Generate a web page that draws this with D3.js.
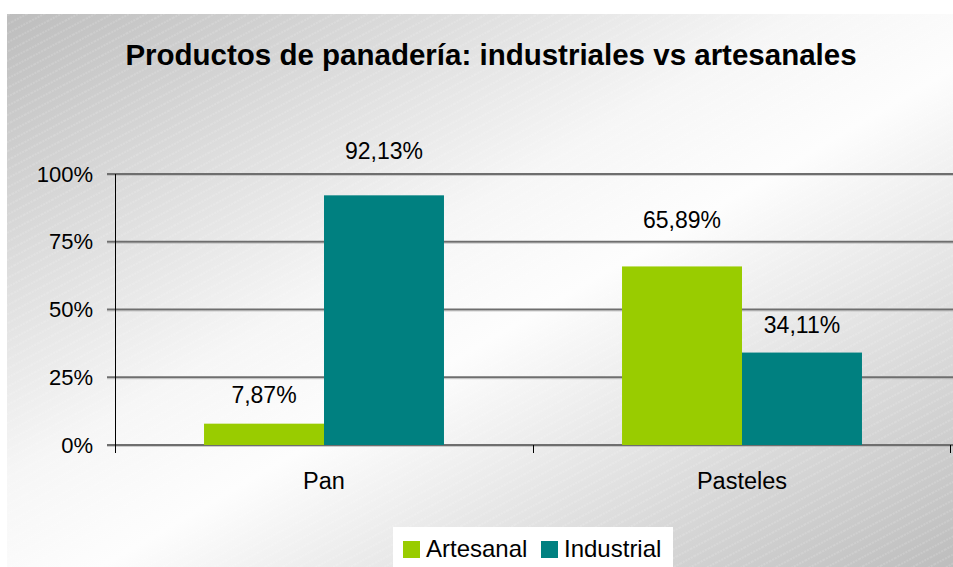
<!DOCTYPE html>
<html>
<head>
<meta charset="utf-8">
<script src="https://cdn.jsdelivr.net/npm/d3@7/dist/d3.min.js"></script>
<style>
html,body{margin:0;padding:0;background:#fff;}
svg{display:block;font-family:"Liberation Sans",Arial,sans-serif;}
</style>
</head>
<body>
<svg id="chart" width="953" height="567"></svg>
<script>
const title = "Productos de panadería: industriales vs artesanales";
const categories = ["Pan", "Pasteles"];
const seriesNames = ["Artesanal", "Industrial"];
const artesanal = [7.87, 65.89];
const industrial = [92.13, 34.11];
const valueLabels = [["7,87%", "65,89%"], ["92,13%", "34,11%"]];
const yTicks = [0, 25, 50, 75, 100];
const yTickLabels = ["0%", "25%", "50%", "75%", "100%"];
const colors = ["#99cc00", "#008080"];
const labelDy = [[29, 46], [44, 28]];

const svg = d3.select("#chart");
const W = 953, H = 567;

const defs = svg.append("defs");
const grad = defs.append("linearGradient").attr("id", "bg")
  .attr("x1", 0).attr("y1", 0).attr("x2", 1).attr("y2", 1);
[[0, "#bdbdbd"], [0.42, "#f6f6f6"], [0.55, "#fdfdfd"], [1, "#bdbdbd"]].forEach(s =>
  grad.append("stop").attr("offset", s[0]).attr("stop-color", s[1]));
const pat = defs.append("pattern").attr("id", "hatch").attr("patternUnits", "userSpaceOnUse")
  .attr("width", 16).attr("height", 8).attr("patternTransform", "rotate(-28)");
pat.append("line").attr("x1", 0).attr("y1", 1).attr("x2", 16).attr("y2", 1)
  .attr("stroke", "#ffffff").attr("stroke-width", 0.8).attr("stroke-dasharray", "2,1").attr("opacity", 0.35);

svg.append("rect").attr("x", 7).attr("y", 14).attr("width", W - 7).attr("height", H - 14).attr("fill", "url(#bg)");
svg.append("rect").attr("x", 7).attr("y", 14).attr("width", W - 7).attr("height", H - 14).attr("fill", "url(#hatch)");

svg.append("text").attr("x", 491).attr("y", 65).attr("text-anchor", "middle")
  .attr("font-size", 29.5).attr("font-weight", "bold").attr("fill", "#000").text(title);

const y = d3.scaleLinear().domain([0, 100]).range([445, 174]);
const x0 = d3.scaleBand().domain(categories).range([115, 951]).paddingInner(0).paddingOuter(0);
const x1 = d3.scaleBand().domain(seriesNames).range([0, x0.bandwidth()]).paddingInner(0).paddingOuter(0.742);

// gridlines
const grid = svg.append("g");
yTicks.forEach(t => {
  grid.append("line").attr("x1", 107).attr("x2", W).attr("y1", y(t)).attr("y2", y(t))
    .attr("stroke", "#6e6e6e").attr("stroke-width", 2);
  grid.append("line").attr("x1", 107).attr("x2", W).attr("y1", y(t) + 1.5).attr("y2", y(t) + 1.5)
    .attr("stroke", "#b0b0b0").attr("stroke-width", 1).attr("opacity", 0.6);
});

// y axis
const yAxis = d3.axisLeft(y).tickValues(yTicks).tickFormat((d, i) => yTickLabels[i]).tickSize(0).tickPadding(22);
const yg = svg.append("g").attr("transform", "translate(115,0)").call(yAxis);
yg.select(".domain").remove();
yg.selectAll("text").attr("font-size", 22).attr("fill", "#000").attr("font-family", "Liberation Sans, Arial, sans-serif");
svg.append("line").attr("x1", 115.5).attr("x2", 115.5).attr("y1", 174).attr("y2", 453).attr("stroke", "#000").attr("stroke-width", 1);

// bars
const seriesData = [artesanal, industrial];
seriesNames.forEach((s, si) => {
  const g = svg.append("g");
  g.selectAll("rect").data(categories).enter().append("rect")
    .attr("x", (c) => x0(c) + x1(s))
    .attr("width", x1.bandwidth())
    .attr("y", (c, i) => y(seriesData[si][i]))
    .attr("height", (c, i) => y(0) - y(seriesData[si][i]))
    .attr("fill", colors[si]);
  g.selectAll("text").data(categories).enter().append("text")
    .attr("x", (c) => x0(c) + x1(s) + x1.bandwidth() / 2)
    .attr("y", (c, i) => y(seriesData[si][i]) - labelDy[si][i] + 8)
    .attr("text-anchor", "middle").attr("font-size", 23).attr("fill", "#000")
    .text((c, i) => valueLabels[si][i]);
});

// x axis ticks & labels
const xTickPos = categories.map(c => x0(c)).concat([x0.range()[1] - 1]);
xTickPos.forEach(p => {
  svg.append("line").attr("x1", Math.round(p) + 0.5).attr("x2", Math.round(p) + 0.5).attr("y1", 445).attr("y2", 453)
    .attr("stroke", "#000").attr("stroke-width", 1);
});
svg.append("g").selectAll("text").data(categories).enter().append("text")
  .attr("x", c => x0(c) + x0.bandwidth() / 2).attr("y", 489)
  .attr("text-anchor", "middle").attr("font-size", 23.5).attr("fill", "#000").text(c => c);

// legend
const lg = svg.append("g");
lg.append("rect").attr("x", 393).attr("y", 527).attr("width", 280).attr("height", 40).attr("fill", "#fff");
const legX = [403, 541];
seriesNames.forEach((s, i) => {
  lg.append("rect").attr("x", legX[i]).attr("y", 541).attr("width", 17).attr("height", 17).attr("fill", colors[i]);
  lg.append("text").attr("x", legX[i] + 23).attr("y", 557).attr("font-size", 24).attr("fill", "#000").text(s);
});
</script>
</body>
</html>
